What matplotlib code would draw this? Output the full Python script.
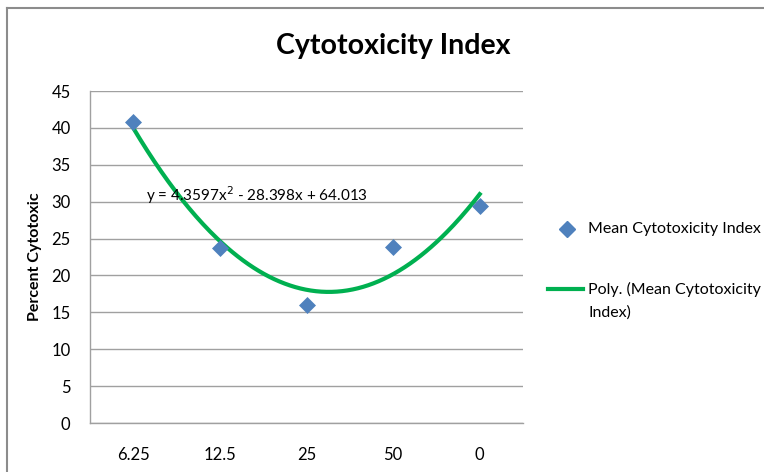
import numpy as np
import matplotlib.pyplot as plt
from matplotlib.lines import Line2D

concentrations = ["6.25", "12.5", "25", "50", "0"]
mean_index = [40.8, 23.7, 16.0, 23.9, 29.4]
# quadratic trendline coefficients (a, b, c), x = category number 1..5
poly_coef = [4.3597, -28.398, 64.013]

plt.rcParams['font.family'] = ['Lato', 'DejaVu Sans']

fig = plt.figure(figsize=(7.64, 4.72), dpi=100)
W, H = 764, 472
ax = fig.add_axes([90 / W, 1 - 423 / H, 433 / W, (423 - 91) / H])

xpos = np.arange(1, len(concentrations) + 1)
xs = np.linspace(1, 5, 200)
ax.plot(xs, np.polyval(poly_coef, xs), color='#00B050', lw=3, zorder=2)
ax.scatter(xpos, mean_index, marker='D', s=75, color='#4F81BD', zorder=3, linewidths=0)

ax.set_xlim(0.5, 5.5)
ax.set_ylim(0, 45)
ax.set_yticks(range(0, 46, 5))
ax.set_xticks(xpos)
ax.set_xticklabels(concentrations)
ax.tick_params(axis='both', length=0, labelsize=12, colors='black')
ax.tick_params(axis='x', pad=17)
ax.tick_params(axis='y', pad=14)
ax.grid(axis='y', color='#A0A0A0', lw=1)
ax.set_axisbelow(True)
for s in ['top', 'right']:
    ax.spines[s].set_visible(False)
for s in ['left', 'bottom']:
    ax.spines[s].set_color('#A0A0A0')
    ax.spines[s].set_linewidth(1)

fig.text(35 / W, 1 - 257 / H, 'Percent Cytotoxic', fontsize=11.5, fontweight='bold',
         rotation=90, ha='center', va='center')

ax.text(146 / W, 1 - 195 / H, r'y = 4.3597x$^{2}$ - 28.398x + 64.013',
        transform=fig.transFigure, fontsize=11, va='center', ha='left')

fig.text(393 / W, 1 - 46 / H, 'Cytotoxicity Index', fontsize=20.5, fontweight='bold',
         ha='center', va='center')

# legend drawn by hand on the right
fig.add_artist(Line2D([567 / W], [1 - 229 / H], marker='D', markersize=8,
                      color='#4F81BD', linestyle='none', transform=fig.transFigure))
fig.text(588 / W, 1 - 229 / H, 'Mean Cytotoxicity Index', fontsize=11.5, va='center')
fig.add_artist(Line2D([548 / W, 583 / W], [1 - 289 / H] * 2, color='#00B050', lw=3,
                      transform=fig.transFigure))
fig.text(588 / W, 1 - 289 / H, 'Poly. (Mean Cytotoxicity', fontsize=11.5, va='center')
fig.text(588 / W, 1 - 313 / H, 'Index)', fontsize=11.5, va='center')

# chart area border
fig.add_artist(Line2D([7 / W, 1], [1 - 8 / H] * 2, color='#8C8C8C', lw=1.5,
                      transform=fig.transFigure))
fig.add_artist(Line2D([7 / W] * 2, [0, 1 - 8 / H], color='#8C8C8C', lw=1.5,
                      transform=fig.transFigure))

fig.savefig('out.png', dpi=100)
